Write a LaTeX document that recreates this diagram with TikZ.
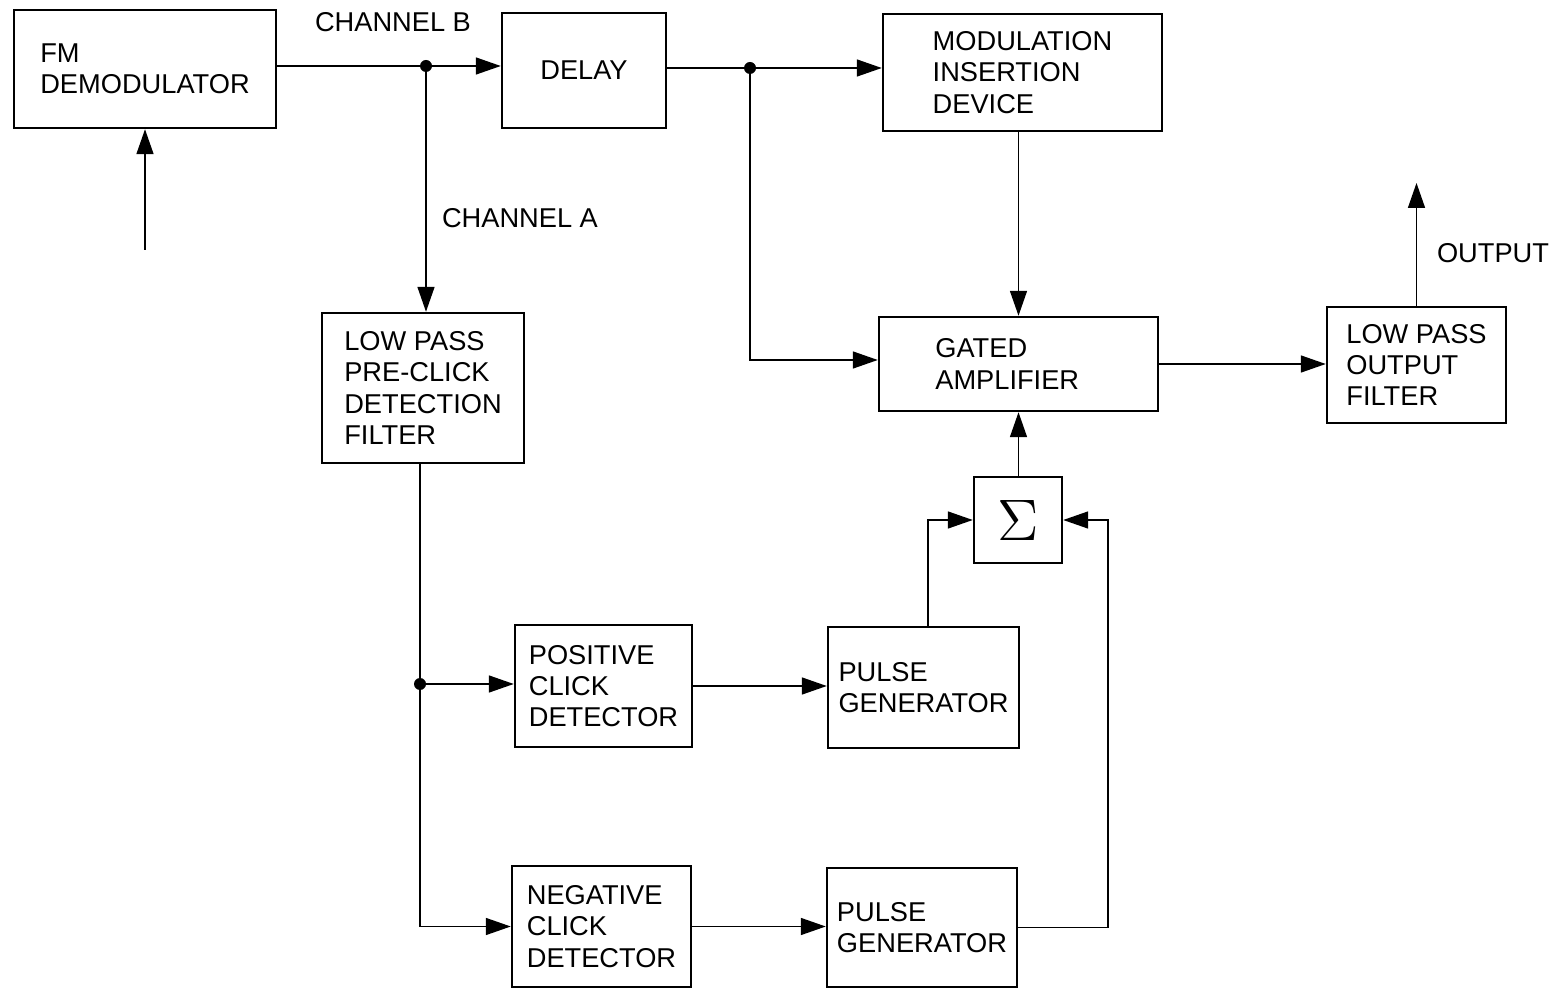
\documentclass[tikz,border=0pt]{standalone}
\usepackage{fontspec}
\setmainfont{Liberation Sans}
\usepackage{tikz}
\usetikzlibrary{arrows.meta,positioning,calc}
\tikzset{
  blk/.style={draw=black, line width=1.4pt, align=left, inner sep=0pt,
              font=\fontsize{15.5}{17.8}\selectfont},
  sarr/.style={-{Triangle[length=5mm, width=3.4mm]}, line width=0.9pt},
  sline/.style={line width=0.9pt},
  dot/.style={circle, fill=black, inner sep=0pt, minimum size=2.4mm},
  lbl/.style={font=\fontsize{15.5}{17.8}\selectfont}
}

\begin{document}
\begin{tikzpicture}
\useasboundingbox (0,0) rectangle (31.16,-19.78);
% blocks
\node[blk, minimum width=5.24cm, minimum height=2.36cm] (fmd) at (2.9,-1.38) {FM\\DEMODULATOR};
\node[blk, minimum width=3.28cm, minimum height=2.3cm] (delay) at (11.68,-1.41) {DELAY};
\node[blk, minimum width=5.58cm, minimum height=2.34cm] (mid) at (20.45,-1.45) {MODULATION\\INSERTION\\DEVICE};
\node[blk, minimum width=4.04cm, minimum height=3.0cm] (lpf) at (8.46,-7.76) {LOW PASS\\PRE-CLICK\\DETECTION\\FILTER};
\node[blk, minimum width=5.58cm, minimum height=1.88cm] (gamp) at (20.37,-7.28) {GATED\\AMPLIFIER\rule{0.45cm}{0pt}};
\node[blk, minimum width=3.58cm, minimum height=2.32cm] (outf) at (28.33,-7.3) {LOW PASS\\OUTPUT\\FILTER};
\node[blk, minimum width=1.76cm, minimum height=1.72cm] (sum) at (20.36,-10.4) {\resizebox{!}{0.8cm}{$\Sigma$}};
\node[blk, minimum width=3.54cm, minimum height=2.44cm] (pos) at (12.07,-13.72) {POSITIVE\\CLICK\\DETECTOR};
\node[blk, minimum width=3.82cm, minimum height=2.42cm] (pgA) at (18.47,-13.75) {PULSE\\GENERATOR};
\node[blk, minimum width=3.58cm, minimum height=2.42cm] (neg) at (12.03,-18.53) {NEGATIVE\\CLICK\\DETECTOR};
\node[blk, minimum width=3.8cm, minimum height=2.38cm] (pgB) at (18.44,-18.55) {PULSE\\GENERATOR};

% junctions and free ends
\node[dot] (jA) at (8.52,-1.32) {};
\node[dot] (jB) at (15.0,-1.36) {};
\node[dot] (jC) at (8.4,-13.68) {};
\coordinate (inp) at (2.9,-5.0);
\coordinate (outp) at (28.33,-3.66);
\coordinate (bend) at ($(pgB.east)+(1.8,0)$);

% labels
\node[lbl] (chb) at (7.86,-0.44) {CHANNEL B};
\node[lbl] (cha) at (10.4,-4.36) {CHANNEL A};
\node[lbl] (outl) at (29.86,-5.06) {OUTPUT};

% connectors
\draw[sarr] (inp) -- (fmd.south);
\draw[sline] (jA -| fmd.east) -- (jA);
\draw[sarr] (jA) -- (jA -| delay.west);
\draw[sarr] (jA) -- (jA |- lpf.north);
\draw[sline] (jB -| delay.east) -- (jB);
\draw[sarr] (jB) -- (jB -| mid.west);
\draw[sarr] (jB) |- ($(gamp.west)+(0,0.08)$);
\draw[sarr] (mid.south -| gamp.north) -- (gamp.north);
\draw[sarr] (gamp.east) -- (gamp.east -| outf.west);
\draw[sarr] (outf.north) -- (outp);
\draw[sline] (jC |- lpf.south) -- (jC);
\draw[sarr] (jC) -- (jC -| pos.west);
\draw[sarr] (jC) |- (neg.west);
\draw[sarr] (pos.east) -- (pos.east -| pgA.west);
\draw[sarr] (neg.east) -- (neg.east -| pgB.west);
\draw[sarr] ($(pgA.north)+(0.09,0)$) |- (sum.west);
\draw[sline] (pgB.east) -- (bend);
\draw[sarr] (bend) |- (sum.east);
\draw[sarr] (sum.north -| gamp.south) -- (gamp.south);
\end{tikzpicture}
\end{document}
